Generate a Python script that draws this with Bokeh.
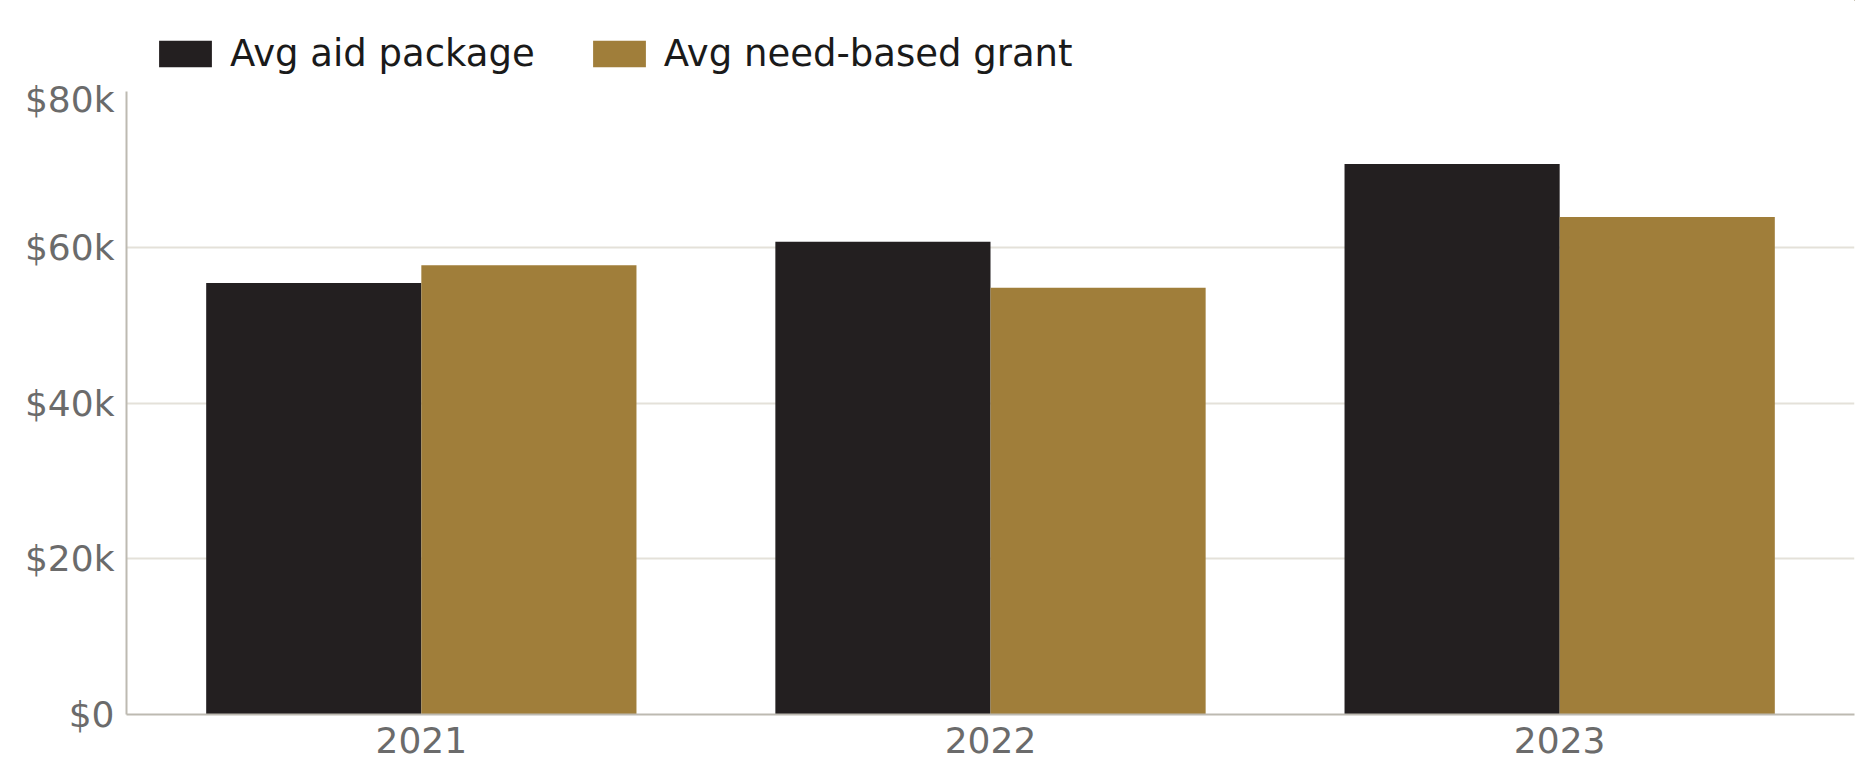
from bokeh.plotting import figure
from bokeh.layouts import column
from bokeh.models import ColumnDataSource, FactorRange, Range1d, FixedTicker, Legend, LegendItem
from bokeh.transform import dodge
from bokeh.embed import file_html
from bokeh.resources import INLINE

years = ["2021", "2022", "2023"]
avg_aid_package = [55400, 60700, 70700]
avg_need_grant = [57700, 54800, 63900]
series_names = ["Avg aid package", "Avg need-based grant"]
series_colors = ["#231F20", "#A07E3A"]
y_ticks = [0, 20000, 40000, 60000, 80000]
y_tick_labels = ["$0", "$20k", "$40k", "$60k", "$80k"]

source = ColumnDataSource(dict(year=years, aid=avg_aid_package, grant=avg_need_grant))

FW, FH = 1728, 623
LEFT, RIGHT = 126, 13
TOTAL_W = LEFT + FW + RIGHT
font = "DejaVu Sans"

# main chart
p = figure(frame_width=FW, frame_height=FH, x_range=FactorRange(*years, range_padding=0.012),
           y_range=Range1d(0, 80000), output_backend="svg", toolbar_location=None,
           min_border_left=LEFT, min_border_right=RIGHT, min_border_top=13, min_border_bottom=61)
p.outline_line_color = None
p.background_fill_color = "white"

p.vbar(x=dodge("year", -0.189, range=p.x_range), top="aid", width=0.378, source=source,
       fill_color=series_colors[0], line_color=None)
p.vbar(x=dodge("year", 0.189, range=p.x_range), top="grant", width=0.378, source=source,
       fill_color=series_colors[1], line_color=None)

p.yaxis.ticker = FixedTicker(ticks=y_ticks)
p.yaxis.major_label_overrides = {t: l for t, l in zip(y_ticks, y_tick_labels)}
for ax in (p.xaxis[0], p.yaxis[0]):
    ax.major_label_text_font = font
    ax.major_label_text_font_size = "36px"
    ax.major_label_text_color = "#6b6b6b"
    ax.axis_line_color = "#BDBAB1"
    ax.axis_line_width = 2
    ax.major_tick_line_color = None
    ax.minor_tick_line_color = None
    ax.major_tick_out = 0
    ax.major_tick_in = 0
p.yaxis.major_label_standoff = 12
p.xaxis.major_label_standoff = 12

p.xgrid.grid_line_color = None
p.ygrid.grid_line_color = "#E4E1D9"
p.ygrid.grid_line_width = 2

# legend strip above the chart (key renderers have zero height, so they paint nothing)
lg = figure(width=TOTAL_W, height=78, x_range=Range1d(0, 1), y_range=Range1d(0, 1),
            output_backend="svg", toolbar_location=None, min_border=0)
lg.axis.visible = False
lg.grid.visible = False
lg.outline_line_color = None
k1 = lg.vbar(x="aid", bottom="aid", top="aid", width=0.1, source=source,
             fill_color=series_colors[0], line_color=None)
k2 = lg.vbar(x="grant", bottom="grant", top="grant", width=0.1, source=source,
             fill_color=series_colors[1], line_color=None)
legend = Legend(items=[LegendItem(label=series_names[0], renderers=[k1]),
                       LegendItem(label=series_names[1], renderers=[k2])],
                orientation="horizontal", location=(26, 3),
                label_text_font=font, label_text_font_size="37px", label_text_color="#1a1a1a",
                glyph_width=66, glyph_height=33, label_standoff=12, spacing=51,
                border_line_color=None, background_fill_alpha=0, padding=0, margin=0)
lg.add_layout(legend, "center")

layout = column(lg, p, spacing=0)
open("out.html", "w").write(file_html(layout, INLINE))
